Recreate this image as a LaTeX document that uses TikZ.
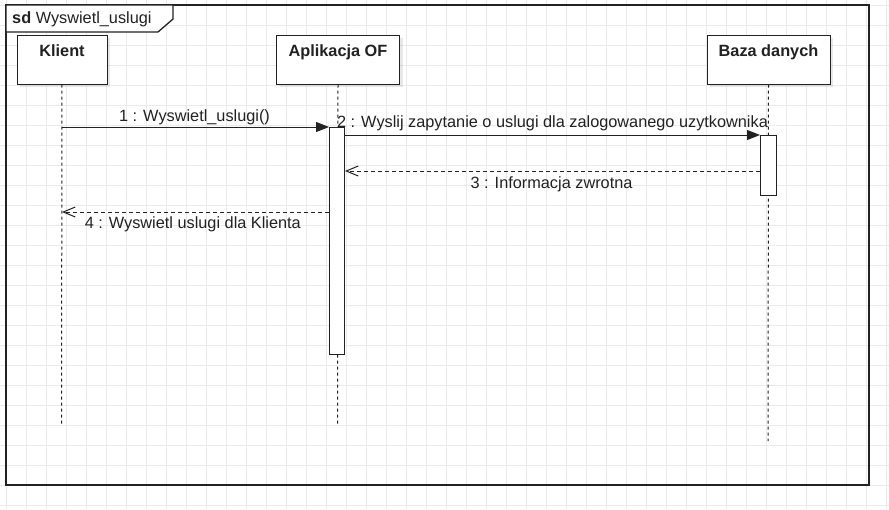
\documentclass[tikz,border=0pt]{standalone}
\usepackage{fontspec}
\setmainfont{Liberation Sans}
\usetikzlibrary{arrows.meta,shadows}
\definecolor{gridc}{HTML}{EBEBEB}
\definecolor{linec}{HTML}{222222}
\begin{document}
\begin{tikzpicture}[x=1pt,y=-1pt,
  lbl/.style={font=\fontsize{16.3}{19}\selectfont, inner sep=0pt, anchor=base, text=linec},
  boxtxt/.style={lbl, font=\fontsize{16.3}{19}\selectfont\bfseries},
  lifebox/.style={draw=linec, line width=1pt, fill=white, anchor=north west, inner sep=0pt,
    minimum height=49pt,
    drop shadow={shadow xshift=3pt, shadow yshift=-3pt, opacity=0.18, fill=gray}},
  actbar/.style={draw=linec, line width=1pt, fill=white, anchor=north west, inner sep=0pt},
  lifeline/.style={draw=linec, line width=1pt, dash pattern=on 3pt off 3pt},
  msg/.style={draw=linec, line width=1pt, -{Triangle[length=13pt,width=10pt]}},
  reply/.style={draw=linec, line width=1pt, dash pattern=on 4pt off 3pt,
    -{Straight Barb[length=12pt,width=10pt,line width=1pt]}}]
\useasboundingbox (0,0) rectangle (889,509);
\fill[white] (0,0) rectangle (889,509);
\begin{scope}
  \clip (0,0) rectangle (889,509);
  \foreach \i in {0,...,44} \draw[gridc, line width=0.9pt] ({6.7+20*\i},0) -- ({6.7+20*\i},509);
  \foreach \j in {0,...,25} \draw[gridc, line width=0.9pt] (0,{5+20*\j}) -- (889,{5+20*\j});
\end{scope}
% frame
\draw[linec, line width=1.3pt] (6,5) rectangle (869,485);
\draw[linec, line width=1.3pt, fill=white] (6,5) -- (173,5) -- (173,19) -- (158,32) -- (6,32) -- cycle;
\node[lbl, anchor=base west] (tabt) at (12,23) {\textbf{sd}\ Wyswietl\_uslugi};
% lifeline heads
\node[lifebox, minimum width=90pt] (klient) at (16.5,34.5) {};
\node[lifebox, minimum width=123pt] (app) at (276,34.5) {};
\node[lifebox, minimum width=123pt] (db) at (706.5,34.5) {};
\node[boxtxt] (klientt) at ([yshift=-22pt]klient.north) {Klient};
\node[boxtxt] (appt) at ([yshift=-22pt]app.north) {Aplikacja OF};
\node[boxtxt] (dbt) at ([yshift=-22pt]db.north) {Baza danych};
% lifelines
\coordinate (kend) at (61.5,425);
\coordinate (aend) at (337.5,425);
\coordinate (dend) at (768,441);
\draw[lifeline] (klient.south) -- (kend);
\draw[lifeline] (app.south) -- (aend);
\draw[lifeline] (db.south) -- (dend);
% activation bars
\node[actbar, minimum width=15pt, minimum height=227pt] (appbar) at (329,127) {};
\node[actbar, minimum width=16pt, minimum height=60pt] (dbbar) at (760,135) {};
% messages
\draw[msg] (klient.south |- appbar.north) -- (appbar.north west);
\draw[msg] (appbar.east |- dbbar.north) -- (dbbar.north west);
\draw[reply] (dbbar.west |- 0,171) -- (appbar.east |- 0,171);
\draw[reply] (appbar.west |- 0,212) -- (klient.south |- 0,212);
% labels
\node[lbl] (l1) at (194.5,121) {1 : Wyswietl\_uslugi()};
\node[lbl] (l2) at (552.5,127) {2 : Wyslij zapytanie o uslugi dla zalogowanego uzytkownika};
\node[lbl] (l3) at (551.5,188) {3 : Informacja zwrotna};
\node[lbl] (l4) at (192.8,228) {4 : Wyswietl uslugi dla Klienta};
\end{tikzpicture}
\end{document}
